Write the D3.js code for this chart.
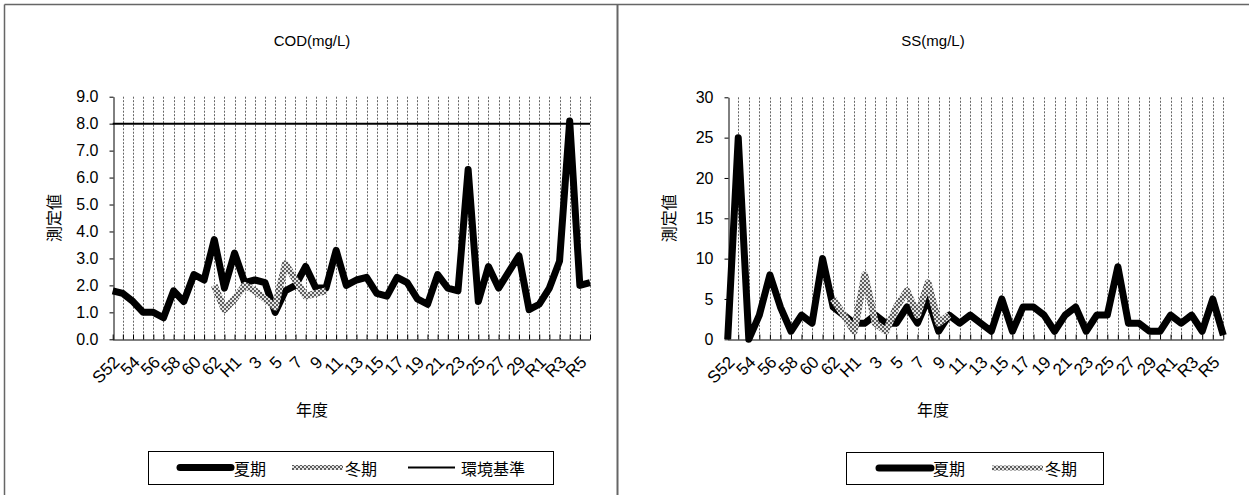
<!DOCTYPE html>
<html><head><meta charset="utf-8">
<script src="https://cdn.jsdelivr.net/npm/d3@7"></script>
<style>
body{margin:0;background:#fff}
svg{display:block}
text{font-family:"Liberation Sans","Noto Sans CJK JP",sans-serif;fill:#000}
</style>
</head><body>
<svg id="c" width="1249" height="495"></svg>
<script>
// ---- data ----
const categories = ["S52","53","54","55","56","57","58","59","60","61","62","63",
  "H1","2","3","4","5","6","7","8","9","10","11","12","13","14","15","16","17","18","19","20",
  "21","22","23","24","25","26","27","28","29","30",
  "R1","R2","R3","R4","R5","R6"];
const tickLabels = ["S52","","54","","56","","58","","60","","62","",
  "H1","","3","","5","","7","","9","","11","","13","","15","","17","","19","",
  "21","","23","","25","","27","","29","",
  "R1","","R3","","R5",""];
const codSummer = [1.8,1.7,1.4,1.0,1.0,0.8,1.8,1.4,2.4,2.2,3.7,1.9,
  3.2,2.1,2.2,2.1,1.0,1.8,2.0,2.7,1.9,1.9,3.3,2.0,2.2,2.3,1.7,1.6,2.3,2.1,1.5,1.3,
  2.4,1.9,1.8,6.3,1.4,2.7,1.9,2.5,3.1,1.1,
  1.3,1.9,2.9,8.1,2.0,2.1];
const codWinter = [null,null,null,null,null,null,null,null,null,null,2.0,1.1,
  1.5,2.0,1.8,1.5,1.2,2.8,2.2,1.6,1.7,1.8,null,null,null,null,null,null,null,null,null,null,
  null,null,null,null,null,null,null,null,null,null,
  null,null,null,null,null,null];
const codStandard = 8.0;
const ssSummer = [0,25,0,3,8,4,1,3,2,10,4,3,
  2,2,3,2,2,4,2,5,1,3,2,3,2,1,5,1,4,4,3,1,
  3,4,1,3,3,9,2,2,1,1,
  3,2,3,1,5,0.5];
const ssWinter = [null,null,null,null,null,null,null,null,null,null,5,3,
  1,8,2,1,4,6,3,7,2,3,null,null,null,null,null,null,null,null,null,null,
  null,null,null,null,null,null,null,null,null,null,
  null,null,null,null,null,null];
const codTicks = [0,1,2,3,4,5,6,7,8,9];
const ssTicks = [0,5,10,15,20,25,30];

// ---- drawing ----
const svg = d3.select("#c");
const defs = svg.append("defs");
const pat = defs.append("pattern").attr("id","dots").attr("patternUnits","userSpaceOnUse")
  .attr("width",4).attr("height",4);
pat.append("rect").attr("width",4).attr("height",4).attr("fill","#e4e4e4");
pat.append("rect").attr("x",0).attr("y",0).attr("width",2).attr("height",2).attr("fill","#5e5e5e");
pat.append("rect").attr("x",2).attr("y",2).attr("width",2).attr("height",2).attr("fill","#5e5e5e");

// frame
svg.append("line").attr("x1",4.5).attr("x2",1249).attr("y1",4.5).attr("y2",4.5).attr("stroke","#666").attr("stroke-width",1.5);
svg.append("line").attr("x1",4.5).attr("x2",4.5).attr("y1",4.5).attr("y2",495).attr("stroke","#666").attr("stroke-width",1.5);
svg.append("line").attr("x1",617.5).attr("x2",617.5).attr("y1",4.5).attr("y2",495).attr("stroke","#666").attr("stroke-width",2);

function panel(cfg){
  const g = svg.append("g");
  const x = d3.scalePoint().domain(d3.range(categories.length)).range([cfg.left, cfg.right]);
  const y = d3.scaleLinear().domain([cfg.ticks[0], cfg.ticks[cfg.ticks.length-1]]).range([cfg.bottom, cfg.top]);

  // vertical dotted gridlines
  g.append("g").selectAll("line").data(d3.range(1,categories.length)).join("line")
    .attr("x1",d=>Math.round(x(d))+0.5).attr("x2",d=>Math.round(x(d))+0.5)
    .attr("y1",cfg.top).attr("y2",cfg.bottom)
    .attr("stroke","#666").attr("stroke-width",1).attr("stroke-dasharray","2,1.5");

  // y axis
  const ya = g.append("g").attr("transform",`translate(${Math.round(cfg.left)+0.5},0)`)
    .call(d3.axisLeft(y).tickValues(cfg.ticks).tickSizeInner(4).tickSizeOuter(0).tickPadding(11).tickFormat(cfg.fmt));
  ya.select(".domain").attr("stroke","#000");
  ya.selectAll(".tick line").attr("stroke","#000");
  ya.selectAll("text").style("font-size","16px").style("font-family","Liberation Sans, sans-serif");

  // x axis
  const xa = g.append("g").attr("transform",`translate(0,${Math.round(cfg.bottom)+0.5})`)
    .call(d3.axisBottom(x).tickSizeInner(-5).tickSizeOuter(0).tickFormat(""));
  xa.select(".domain").attr("stroke","#000");
  xa.selectAll(".tick line").attr("stroke","#000");
  g.append("g").selectAll("text").data(d3.range(categories.length).filter(i=>tickLabels[i]!=="")).join("text")
    .attr("transform",i=>`translate(${x(i)+4},${cfg.bottom+20}) rotate(-45)`)
    .attr("text-anchor","end").attr("dominant-baseline","central")
    .style("font-size","17px").text(i=>tickLabels[i]);

  // standard line
  if(cfg.standard!=null){
    g.append("line").attr("x1",x(0)).attr("x2",x(categories.length-1))
      .attr("y1",y(cfg.standard)).attr("y2",y(cfg.standard)).attr("stroke","#000").attr("stroke-width",2);
  }
  const line = d3.line().defined(d=>d!=null).x((d,i)=>x(i)).y(d=>y(d));
  g.append("path").datum(cfg.summer).attr("d",line).attr("fill","none")
    .attr("stroke","#000").attr("stroke-width",7).attr("stroke-linejoin","round").attr("stroke-linecap","butt");
  g.append("path").datum(cfg.winter).attr("d",line).attr("fill","none")
    .attr("stroke","url(#dots)").attr("stroke-width",7).attr("stroke-linejoin","round");

  // titles
  g.append("text").attr("x",cfg.center).attr("y",46).attr("text-anchor","middle").style("font-size","15px").text(cfg.title);
  g.append("text").attr("x",cfg.center).attr("y",416).attr("text-anchor","middle").style("font-size","16px")
    .style("font-family","Noto Sans CJK JP").text("年度");
  g.append("text").attr("transform",`translate(${cfg.left-53},${(cfg.top+cfg.bottom)/2}) rotate(-90)`)
    .attr("text-anchor","middle").style("font-size","16px").style("font-family","Noto Sans CJK JP").text("測定値");

  // legend
  const L = cfg.legend;
  g.append("rect").attr("x",L.x+0.5).attr("y",L.y+0.5).attr("width",L.w).attr("height",L.h)
    .attr("fill","#fff").attr("stroke","#000");
  const cy = L.y + L.h/2;
  L.items.forEach(it=>{
    const s = g.append("line").attr("x1",it.x1).attr("x2",it.x2).attr("y1",cy).attr("y2",cy);
    if(it.type==="summer") s.attr("stroke","#000").attr("stroke-width",7).attr("stroke-linecap","round");
    else if(it.type==="winter") s.attr("stroke","url(#dots)").attr("stroke-width",5);
    else s.attr("stroke","#000").attr("stroke-width",2);
    g.append("text").attr("x",it.tx).attr("y",cy).attr("dominant-baseline","central")
      .style("font-size","16px").style("font-family","Noto Sans CJK JP").text(it.label);
  });
}

panel({left:112.7,right:590,top:96.7,bottom:339.3,ticks:codTicks,fmt:d3.format(".1f"),
  summer:codSummer,winter:codWinter,standard:codStandard,title:"COD(mg/L)",center:312,
  legend:{x:148,y:451,w:405,h:33,items:[
    {type:"summer",x1:180,x2:231,tx:234,label:"夏期"},
    {type:"winter",x1:292,x2:343,tx:345,label:"冬期"},
    {type:"std",x1:408,x2:455,tx:461,label:"環境基準"}]}});

panel({left:727.7,right:1223.3,top:97.3,bottom:339.3,ticks:ssTicks,fmt:d3.format("d"),
  summer:ssSummer,winter:ssWinter,standard:null,title:"SS(mg/L)",center:933,
  legend:{x:846,y:452,w:257,h:32,items:[
    {type:"summer",x1:879,x2:931,tx:933,label:"夏期"},
    {type:"winter",x1:992,x2:1043,tx:1045,label:"冬期"}]}});
</script>
</body></html>
